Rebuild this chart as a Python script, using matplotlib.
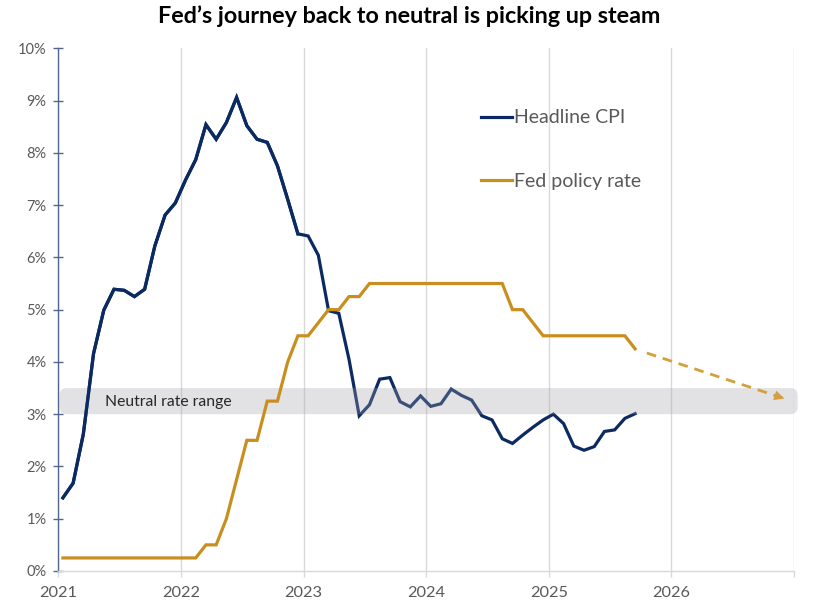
import matplotlib
matplotlib.use("Agg")
import matplotlib.pyplot as plt
from matplotlib.patches import FancyBboxPatch
import numpy as np

plt.rcParams['font.family'] = ['Lato', 'DejaVu Sans']

# ---- data (monthly, Jan 2021 onward) ----
cpi = [1.40, 1.68, 2.62, 4.16, 4.99, 5.39, 5.37, 5.25, 5.39, 6.22, 6.81, 7.04,
       7.48, 7.87, 8.54, 8.26, 8.58, 9.06, 8.52, 8.26, 8.20, 7.75, 7.11, 6.45,
       6.41, 6.04, 4.98, 4.93, 4.05, 2.97, 3.18, 3.67, 3.70, 3.24, 3.14, 3.35,
       3.15, 3.20, 3.48, 3.36, 3.27, 2.97, 2.89, 2.53, 2.44, 2.60, 2.75, 2.89,
       3.00, 2.82, 2.39, 2.31, 2.38, 2.67, 2.70, 2.92, 3.01]
fed = [0.25] * 14 + [0.50, 0.50, 1.00, 1.75, 2.50, 2.50, 3.25, 3.25, 4.00, 4.50,
       4.50, 4.75, 5.00, 5.00, 5.25, 5.25] + [5.50] * 14 + [5.00, 5.00, 4.75, 4.50] \
      + [4.50] * 8 + [4.25]
start_year = 2021
month_offset = 0.45
proj_x = [2025.80, 2026.92]
proj_y = [4.17, 3.30]
neutral_range = [3.0, 3.5]
year_ticks = [2021, 2022, 2023, 2024, 2025, 2026, 2027]
year_labels = ['2021', '2022', '2023', '2024', '2025', '2026', '']
y_ticks = list(range(0, 11))
y_labels = [f"{v}%" for v in y_ticks]
title = "Fed’s journey back to neutral is picking up steam"

x_cpi = start_year + (np.arange(len(cpi)) + month_offset) / 12
x_fed = start_year + (np.arange(len(fed)) + month_offset) / 12

NAVY = "#0b2a62"
GOLD = "#c98f1e"
ARROW = "#d4a03e"
GRAY_TXT = "#595959"
GRID = "#d9d9d9"

fig = plt.figure(figsize=(8.13, 6.15), dpi=100)
ax = fig.add_axes([58.3 / 813, 44 / 615, (794 - 58.3) / 813, (571 - 48.3) / 615])

ax.set_xlim(2021, 2027)
ax.set_ylim(0, 10)

# grid
ax.set_xticks(year_ticks)
ax.set_xticklabels(year_labels)
ax.grid(axis='x', color=GRID, linewidth=1.0, zorder=0)
ax.grid(axis='y', visible=False)

# lines
ax.plot(x_cpi, cpi, color=NAVY, lw=2.3, zorder=2, solid_joinstyle='miter')
ax.plot(x_cpi[:24], cpi[:24], color=NAVY, lw=2.3, zorder=4, solid_joinstyle='miter')

band = FancyBboxPatch((2021.01, neutral_range[0]), 6.02, neutral_range[1] - neutral_range[0],
                      boxstyle="round,pad=0,rounding_size=0.06",
                      facecolor="#a4a2a9", edgecolor='none', alpha=0.31,
                      zorder=3, clip_on=False, mutation_aspect=2.34)
ax.add_patch(band)
ax.plot(x_fed, fed, color=GOLD, lw=2.3, zorder=5, solid_joinstyle='miter')

ax.text(2021.38, np.mean(neutral_range) - 0.02, "Neutral rate range", fontsize=11.3,
        color="#262626", va='center', ha='left', zorder=6)

# projection arrow
ax.plot(proj_x, proj_y, color=ARROW, lw=2.0, dashes=(3.5, 2.5), zorder=5,
        solid_capstyle='butt')
dx = proj_x[1] - proj_x[0]
dy = proj_y[1] - proj_y[0]
ax.annotate("", xy=(proj_x[1], proj_y[1]),
            xytext=(proj_x[1] - dx * 0.08, proj_y[1] - dy * 0.08),
            arrowprops=dict(arrowstyle='-|>,head_length=0.7,head_width=0.35',
                            color=ARROW, lw=0.1, shrinkA=0, shrinkB=0), zorder=6)

# axes styling
ax.set_yticks(y_ticks)
ax.set_yticklabels(y_labels)
for s in ['top', 'right']:
    ax.spines[s].set_visible(False)
ax.spines['left'].set_color("#55668c")
ax.spines['left'].set_linewidth(1.0)
ax.spines['bottom'].set_color(GRID)
ax.spines['bottom'].set_linewidth(1.0)
ax.tick_params(axis='y', direction='inout', length=7, width=1.0, color="#55668c",
               labelsize=10.5, labelcolor=GRAY_TXT, pad=5)
ax.tick_params(axis='x', direction='out', length=4, width=1.0, color=GRID,
               labelsize=11.8, labelcolor=GRAY_TXT, pad=7)
ax.set_facecolor('white')

# legend
h1, = ax.plot([], [], color=NAVY, lw=2.3)
h2, = ax.plot([], [], color=GOLD, lw=2.3)
leg = ax.legend([h1, h2], ["Headline CPI", "Fed policy rate"], loc='upper left',
                bbox_to_anchor=(0.5635, 0.898), frameon=False, fontsize=14,
                handlelength=1.6, handletextpad=0.1, labelspacing=2.4,
                borderaxespad=0)
for t in leg.get_texts():
    t.set_color(GRAY_TXT)

fig.text(0.503, 0.974, title, ha='center', va='center', fontsize=16.8,
         fontweight='bold', color='black')

fig.savefig("out.png", dpi=100)
